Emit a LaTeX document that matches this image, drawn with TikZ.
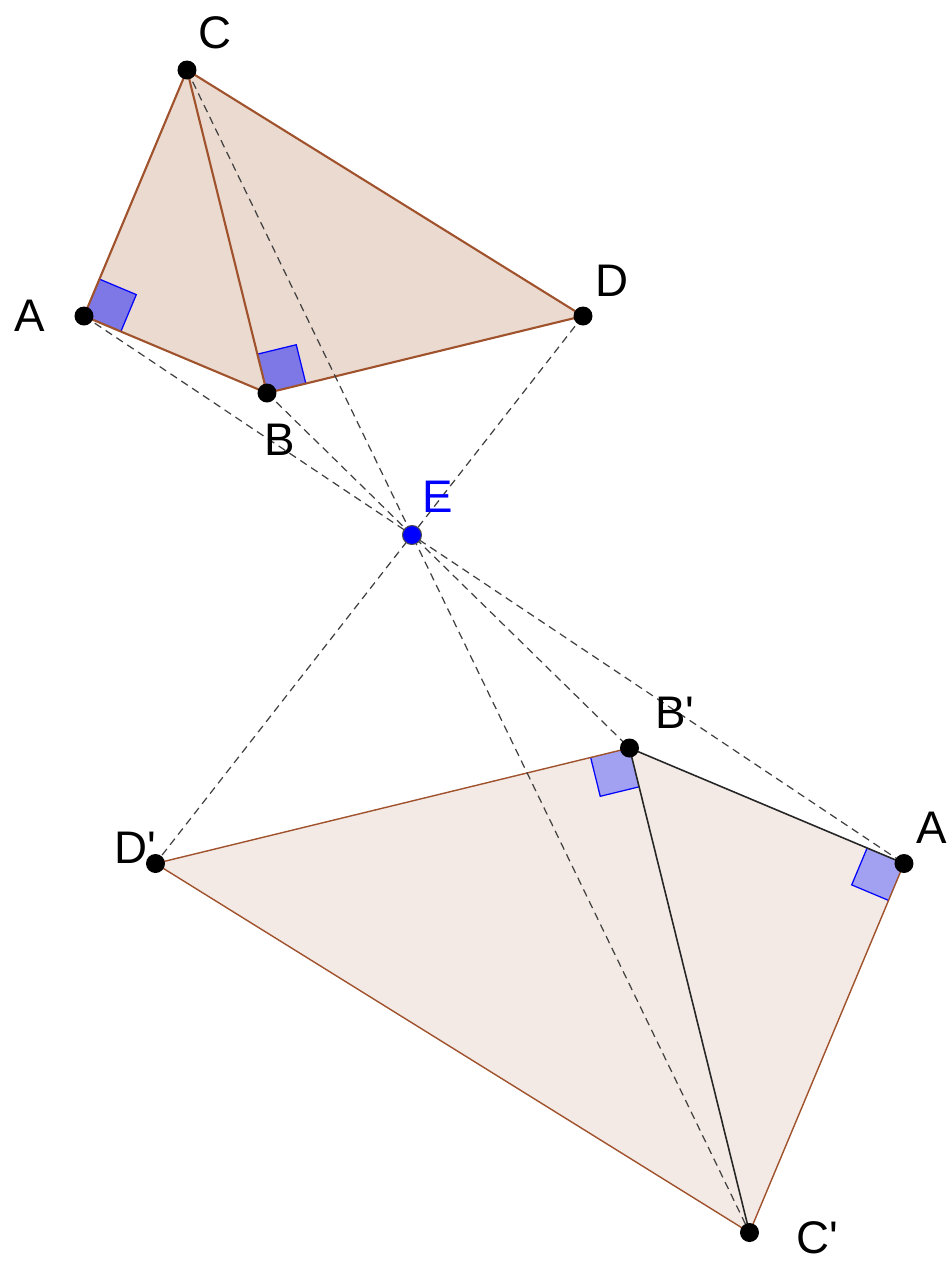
\documentclass[tikz,border=0pt]{standalone}
\usepackage{fontspec}
\setmainfont{Liberation Sans}[Ligatures=TeXOff]
\usetikzlibrary{calc}
\definecolor{edgebrown}{RGB}{160,82,45}
\definecolor{topfill}{RGB}{235,218,207}
\definecolor{botfill}{RGB}{244,234,229}
\definecolor{marktop}{RGB}{125,120,230}
\definecolor{markbot}{RGB}{162,160,240}

\begin{document}
\begin{tikzpicture}[
  edge/.style={draw=edgebrown, line width=0.6pt},
  thinedge/.style={draw=edgebrown, line width=0.4pt},
  ray/.style={draw=black!75, line width=0.35pt, dash pattern=on 2.2pt off 1.5pt},
  rightmark/.style={draw=blue, line width=0.35pt},
  dot/.style={circle, fill=black, inner sep=0pt, minimum size=1.9mm},
  lbl/.style={font=\fontsize{13}{13}\selectfont, inner sep=0pt},
]
\useasboundingbox (0,0) rectangle (9.52,-12.63);

% ── centre of the homothety and the first quadrilateral
\coordinate (E) at (4.12,-5.35);
\coordinate (C) at (1.87,-0.70);
\coordinate (A) at (0.84,-3.16);
\coordinate (B) at (2.67,-3.93);
\coordinate (D) at (5.83,-3.16);

% ── images, ratio -1.5
\coordinate (A') at ($(E)!-1.5!(A)$);
\coordinate (B') at ($(E)!-1.5!(B)$);
\coordinate (C') at ($(E)!-1.5!(C)$);
\coordinate (D') at ($(E)!-1.5!(D)$);

% ── fills
\fill[topfill] (A) -- (B) -- (D) -- (C) -- cycle;
\fill[botfill] (A') -- (B') -- (D') -- (C') -- cycle;

% ── right angle marks
\coordinate (a1) at ($(A)!0.4cm!(B)$);   \coordinate (a2) at ($(A)!0.4cm!(C)$);
\coordinate (b1) at ($(B)!0.4cm!(C)$);   \coordinate (b2) at ($(B)!0.4cm!(D)$);
\coordinate (a1') at ($(A')!0.4cm!(B')$); \coordinate (a2') at ($(A')!0.4cm!(C')$);
\coordinate (b1') at ($(B')!0.4cm!(C')$); \coordinate (b2') at ($(B')!0.4cm!(D')$);

\fill[marktop] (A) -- (a1) -- ($(a1)+(a2)-(A)$) -- (a2) -- cycle;
\draw[rightmark] (a1) -- ($(a1)+(a2)-(A)$) -- (a2);
\fill[marktop] (B) -- (b1) -- ($(b1)+(b2)-(B)$) -- (b2) -- cycle;
\draw[rightmark] (b1) -- ($(b1)+(b2)-(B)$) -- (b2);
\fill[markbot] (A') -- (a1') -- ($(a1')+(a2')-(A')$) -- (a2') -- cycle;
\draw[rightmark] (a1') -- ($(a1')+(a2')-(A')$) -- (a2');
\fill[markbot] (B') -- (b1') -- ($(b1')+(b2')-(B')$) -- (b2') -- cycle;
\draw[rightmark] (b1') -- ($(b1')+(b2')-(B')$) -- (b2');

% ── sides
\draw[edge] (A) -- (B) -- (D) -- (C) -- cycle;
\draw[edge] (C) -- (B);
\draw[thinedge] (B') -- (D') -- (C') -- (A');
\draw[line width=0.45pt, black!85] (A') -- (B') -- (C');

% ── rays through E
\draw[ray] (A) -- (A');
\draw[ray] (B) -- (B');
\draw[ray] (C) -- (C');
\draw[ray] (D) -- (D');

% ── points
\node[dot] (pA) at (A) {};
\node[dot] (pB) at (B) {};
\node[dot] (pC) at (C) {};
\node[dot] (pD) at (D) {};
\node[dot] (pA') at (A') {};
\node[dot] (pB') at (B') {};
\node[dot] (pC') at (C') {};
\node[dot] (pD') at (D') {};
\node[circle, fill=blue, draw=black!70, line width=0.3pt, inner sep=0pt,
      minimum size=1.9mm] (pE) at (E) {};

% ── labels
\node[lbl] (lC) at (2.15,-0.33) {C};
\node[lbl] (lA) at (0.30,-3.16) {A};
\node[lbl] (lB) at (2.80,-4.40) {B};
\node[lbl] (lD) at (6.12,-2.81) {D};
\node[lbl, text=blue] (lE) at (4.38,-4.97) {E};
\node[lbl] (lB') at (6.75,-7.13) {B'};
\node[lbl] (lA') at (9.32,-8.28) {A};
\node[lbl] (lD') at (1.35,-8.48) {D'};
\node[lbl] (lC') at (8.17,-12.38) {C'};

\end{tikzpicture}
\end{document}
